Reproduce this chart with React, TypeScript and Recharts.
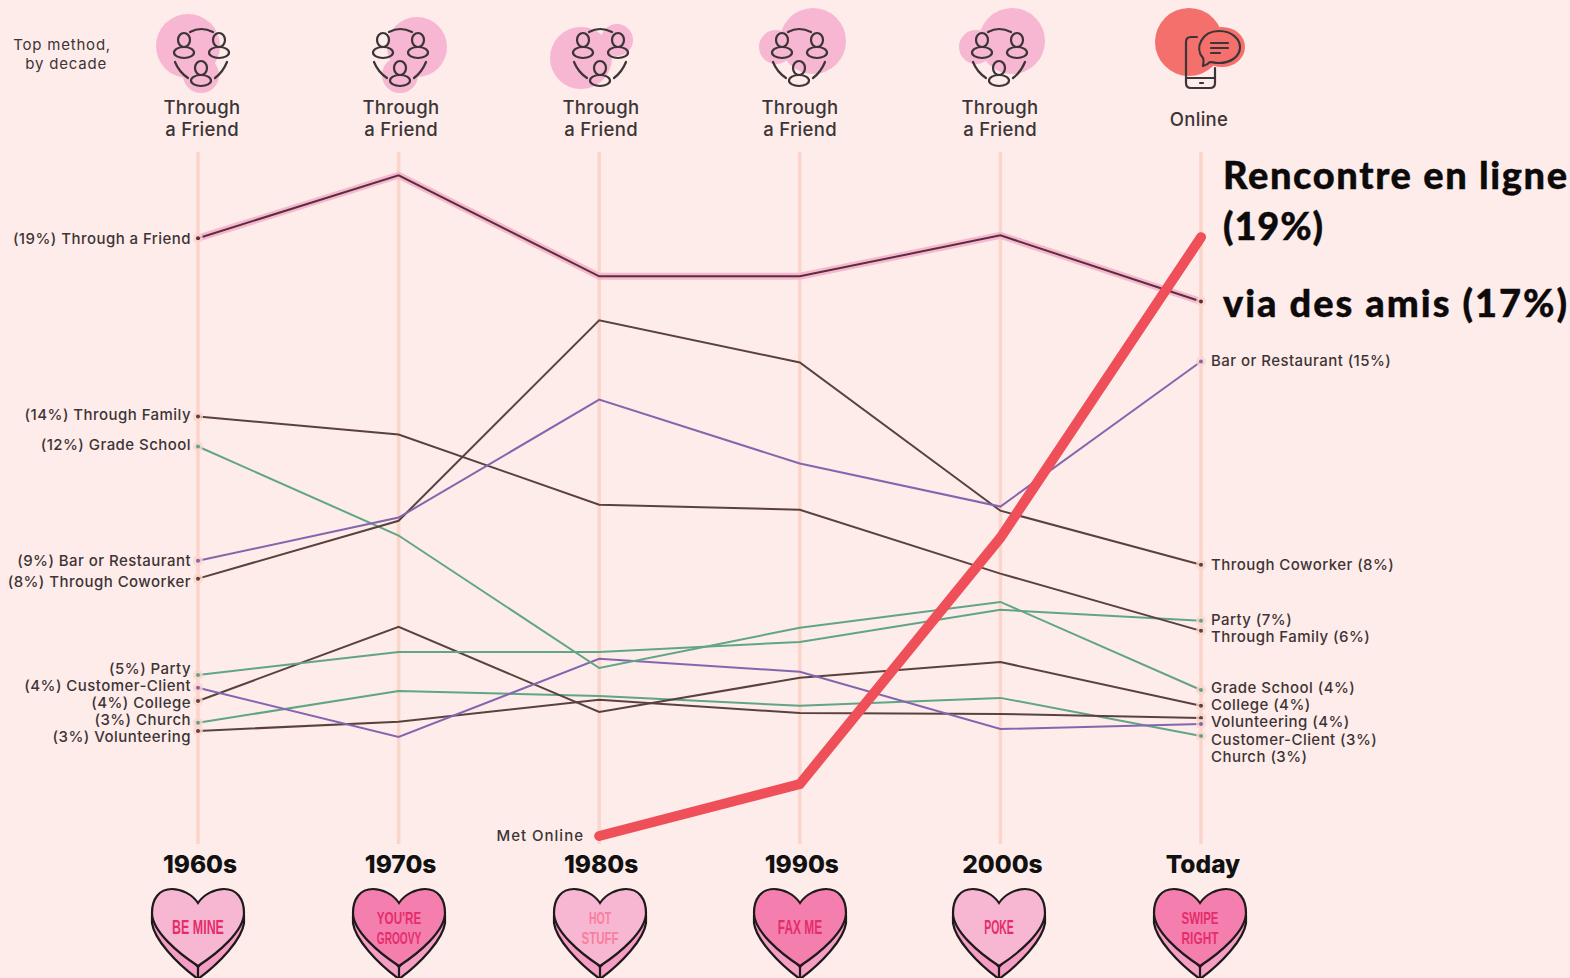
import * as React from "react";
import { CartesianGrid, Line, LineChart, XAxis, YAxis } from "recharts";

const decades = ["1960s", "1970s", "1980s", "1990s", "2000s", "Today"];

// share of couples (%)
const friend = [19.0, 21.0, 17.79, 17.79, 19.09, 16.99];
const family = [13.33, 12.76, 10.53, 10.37, 8.34, 6.52];
const gradeSchool = [12.38, 9.55, 5.34, 6.62, 7.44, 4.64];
const party = [5.12, 5.85, 5.85, 6.17, 7.19, 6.84];
const bar = [8.75, 10.12, 13.87, 11.84, 10.47, 15.08];
const coworker = [8.18, 10.02, 16.39, 15.05, 10.34, 8.62];
const customer = [4.71, 3.15, 5.63, 5.22, 3.4, 3.56];
const college = [4.29, 6.65, 3.94, 5.03, 5.53, 4.14];
const volunteering = [3.34, 3.63, 4.33, 3.91, 3.88, 3.75];
const church = [3.6, 4.61, 4.45, 4.14, 4.39, 3.18];
const online = [null, null, 0, 1.65, 9.48, 19.03];

const leftLabels = [
  "(19%) Through a Friend",
  "(14%) Through Family",
  "(12%) Grade School",
  "(9%) Bar or Restaurant",
  "(8%) Through Coworker",
  "(5%) Party",
  "(4%) Customer-Client",
  "(4%) College",
  "(3%) Church",
  "(3%) Volunteering",
];
const rightLabels = [
  "Bar or Restaurant (15%)",
  "Through Coworker (8%)",
  "Party (7%)",
  "Through Family (6%)",
  "Grade School (4%)",
  "College (4%)",
  "Volunteering (4%)",
  "Customer-Client (3%)",
  "Church (3%)",
];
const topMethods = [["Through", "a Friend"], ["Through", "a Friend"], ["Through", "a Friend"], ["Through", "a Friend"], ["Through", "a Friend"], ["Online"]];
const candyWords = [["BE MINE"], ["YOU'RE", "GROOVY"], ["HOT", "STUFF"], ["FAX ME"], ["POKE"], ["SWIPE", "RIGHT"]];

const table = decades.map((decade, i) => ({
  decade,
  friend: friend[i],
  family: family[i],
  gradeSchool: gradeSchool[i],
  party: party[i],
  bar: bar[i],
  coworker: coworker[i],
  customer: customer[i],
  college: college[i],
  volunteering: volunteering[i],
  church: church[i],
  online: online[i],
}));

const BROWN = "#5b413e";
const PURPLE = "#8465ae";
const GREEN = "#60a585";
const RED = "#ee4f58";
const PINK = "#f7b6d1";
const HOT_PINK = "#f47fae";
const LAYER_PINK = "#f59dc3";
const INK = "#3d3437";
const FONT = "Inter, sans-serif";
const TITLE_FONT = "Lato, sans-serif";

const series: [string, string][] = [
  ["church", GREEN],
  ["volunteering", BROWN],
  ["college", BROWN],
  ["customer", PURPLE],
  ["party", GREEN],
  ["gradeSchool", GREEN],
  ["family", BROWN],
  ["coworker", BROWN],
  ["bar", PURPLE],
];

const leftY = [239, 415, 445, 561, 582, 669, 686, 703, 720, 737];
const rightY = [361, 565, 620, 637, 688, 705, 722, 740, 757];
const iconX = [201, 400, 600, 799, 999];
const heartX = [198, 399, 600, 800, 999, 1200];
const blobs = [
  [188, 46, 32, 201, 75, 18],
  [417, 47, 30, 400, 75, 18],
  [581, 58, 31, 617, 40, 16],
  [813, 41, 33, 776, 47, 17],
  [1012, 41, 33, 976, 47, 17],
];

// little end-of-line marker, only first and last points of a series get one
const endDot = (color: string) => (props: any) => {
  const { cx, cy, index } = props;
  if (index !== 0 && index !== decades.length - 1) return <g key={index} />;
  return (
    <g key={index}>
      <circle cx={cx} cy={cy} r={5} fill="#fbd5ca" opacity={0.8} />
      <circle cx={cx} cy={cy} r={2} fill={color} />
    </g>
  );
};

function People({ x }: { x: number }) {
  const person = (px: number, py: number) => (
    <g key={px}>
      <ellipse cx={px} cy={py} rx={6} ry={7} />
      <ellipse cx={px} cy={py + 12.5} rx={10} ry={5.5} />
    </g>
  );
  return (
    <g fill="none" stroke={INK} strokeWidth={2.2} strokeLinecap="round">
      {person(x - 17, 40)}
      {person(x + 18, 40)}
      {person(x, 68)}
      <path d={`M${x - 11} 32 Q${x} 26 ${x + 12} 32`} />
      <path d={`M${x - 26} 62 Q${x - 22} 72 ${x - 13} 78`} />
      <path d={`M${x + 26} 62 Q${x + 22} 72 ${x + 14} 78`} />
    </g>
  );
}

function Phone() {
  return (
    <g>
      <circle cx={1189} cy={42} r={34} fill="#f4706c" />
      <ellipse cx={1222} cy={47} rx={23} ry={20} fill="#f4706c" />
      <g fill="none" stroke={INK} strokeWidth={2.2} strokeLinecap="round" strokeLinejoin="round">
        <path d="M1197 37 H1191 Q1186 37 1186 42 V83 Q1186 88 1191 88 H1210 Q1215 88 1215 83 V68" />
        <path d="M1186 78 H1215" />
        <path d="M1200 83 H1203" />
        <path d="M1203 66 Q1204 60 1203 58 C1194 48 1202 31 1219 31 C1234 31 1240 41 1240 47 C1240 57 1230 63 1219 63 C1215 63 1212 62 1210 62 Q1207 65 1203 66 Z" />
        <path d="M1211 43 H1228 M1211 48 H1228 M1211 53 H1220" />
      </g>
    </g>
  );
}

function Heart({ x, words, dark, pale }: { x: number; words: string[]; dark: boolean; pale: boolean }) {
  const twoLines = words.length > 1;
  return (
    <g transform={`translate(${x} 889)`}>
      <path
        d="M-46 26 L-46 34 C-44 50 -22 74 0 90 C22 74 44 50 46 34 L46 26 L0 78 Z"
        fill={LAYER_PINK}
        stroke="#1d1a1b"
        strokeWidth={2.2}
        strokeLinejoin="round"
      />
      <path
        d="M0 14 C-6 5 -17 0 -26 0 C-39 0 -46 10 -46 24 C-46 42 -20 64 0 77 C20 64 46 42 46 24 C46 10 39 0 26 0 C17 0 6 5 0 14 Z"
        fill={dark ? HOT_PINK : PINK}
        stroke="#1d1a1b"
        strokeWidth={2.2}
      />
      <path d="M0 77 V90" stroke="#1d1a1b" strokeWidth={2.2} />
      {words.map((w, i) => (
        <text
          key={w}
          x={0}
          y={twoLines ? 35 + i * 20 : 45}
          textAnchor="middle"
          fontFamily="'Liberation Sans Narrow', 'Liberation Sans', sans-serif"
          fontSize={twoLines ? 17 : 21}
          fontWeight={700}
          fill={pale ? "#f97f9f" : "#e62d6c"}
          textLength={w.length * 7.4}
          lengthAdjust="spacingAndGlyphs"
        >
          {w}
        </text>
      ))}
    </g>
  );
}

export default function App() {
  const labelStyle = { fontFamily: FONT, fontSize: 15, fontWeight: 500, fill: INK, letterSpacing: 0.45 };
  const noteStyle = { fontFamily: TITLE_FONT, fontSize: 38, fontWeight: 900, fill: "#0c0a0a", stroke: "#0c0a0a", strokeWidth: 0.4 };
  return (
    <div style={{ position: "absolute", left: 0, top: 0, width: 1570, height: 978, background: "#fdece9", overflow: "hidden" }}>
      <svg width={1570} height={978} style={{ position: "absolute", left: 0, top: 0 }}>
        {/* top row */}
        <text x={111} y={50} textAnchor="end" fontFamily={FONT} fontSize={15} letterSpacing={0.8} fill={INK}>Top method,</text>
        <text x={107} y={69} textAnchor="end" fontFamily={FONT} fontSize={15} letterSpacing={0.8} fill={INK}>by decade</text>
        {blobs.map((b, i) => (
          <g key={i} fill={PINK}>
            <circle cx={b[0]} cy={b[1]} r={b[2]} />
            <circle cx={b[3]} cy={b[4]} r={b[5]} />
          </g>
        ))}
        {iconX.map((x) => <People key={x} x={x} />)}
        <Phone />
        {topMethods.map((lines, i) =>
          lines.map((line, j) => (
            <text
              key={j}
              x={i < 5 ? iconX[i] + 1 : 1199}
              y={i < 5 ? 114 + j * 22 : 126}
              textAnchor="middle"
              fontFamily={FONT}
              fontSize={18.5}
              fontWeight={500}
              letterSpacing={0.3}
              fill={INK}
            >
              {line}
            </text>
          ))
        )}
        {/* candy hearts */}
        {candyWords.map((words, i) => (
          <Heart key={i} x={heartX[i]} words={words} dark={i % 2 === 1} pale={i === 2} />
        ))}
      </svg>

      <div style={{ position: "absolute", left: 0, top: 0 }}>
        <LineChart
          width={1570}
          height={978}
          data={table}
          margin={{ top: 152, right: 369, bottom: 104, left: 198 }}
        >
          <CartesianGrid vertical horizontal={false} stroke="#fbd5ca" strokeWidth={3.5} />
          <XAxis
            dataKey="decade"
            height={30}
            axisLine={false}
            tickLine={false}
            interval={0}
            tickMargin={6}
            tick={{ fill: "#111", fontFamily: FONT, fontSize: 24.5, fontWeight: 800, dx: 2 }}
          />
          <YAxis hide domain={[-0.254, 21.74]} />
          <Line dataKey="friend" stroke="#f5b8cf" strokeWidth={7} dot={false} isAnimationActive={false} />
          <Line dataKey="friend" stroke="#5d2c3e" strokeWidth={2} dot={endDot("#5d2c3e")} isAnimationActive={false} />
          {series.map(([key, color]) => (
            <Line
              key={key}
              dataKey={key}
              stroke={color}
              strokeWidth={2}
              dot={endDot(color)}
              isAnimationActive={false}
            />
          ))}
          <Line dataKey="online" stroke={RED} strokeWidth={10} strokeLinecap="round" dot={false} isAnimationActive={false} />
        </LineChart>
      </div>

      <svg width={1570} height={978} style={{ position: "absolute", left: 0, top: 0, pointerEvents: "none" }}>
        {leftLabels.map((t, i) => (
          <text key={t} x={191} y={leftY[i] + 5} textAnchor="end" {...labelStyle}>{t}</text>
        ))}
        {rightLabels.map((t, i) => (
          <text key={t} x={1211} y={rightY[i] + 5} {...labelStyle}>{t}</text>
        ))}
        <text x={584} y={841} textAnchor="end" {...labelStyle} letterSpacing={1}>Met Online</text>
        <text x={1223} y={189} {...noteStyle} textLength={344}>Rencontre en ligne</text>
        <text x={1223} y={240} {...noteStyle} textLength={100}>(19%)</text>
        <text x={1223} y={317} {...noteStyle} textLength={344}>via des amis (17%)</text>
      </svg>
    </div>
  );
}
